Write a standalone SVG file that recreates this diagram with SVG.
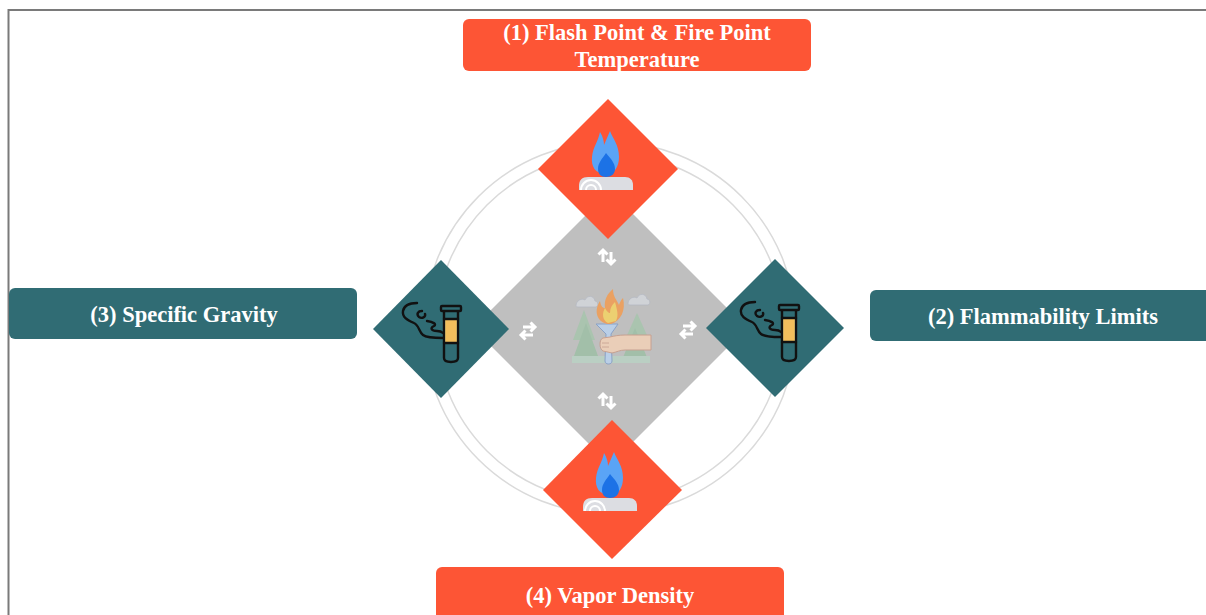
<svg xmlns="http://www.w3.org/2000/svg" xmlns:xlink="http://www.w3.org/1999/xlink" width="1206" height="615" viewBox="0 0 1206 615">
  <style>
    .red { fill: #FD5535; }
    .teal { fill: #306C74; }
    .ring { fill: none; stroke: #DADADA; stroke-width: 1.5; }
    .label { font-family: "Liberation Serif", "Times New Roman", serif; font-weight: bold; font-size: 22.5px; fill: #FFFFFF; text-anchor: middle; }
    .arr { fill: none; stroke: #FFFFFF; stroke-width: 3; stroke-linejoin: miter; }
    .ink { fill: none; stroke: #111111; stroke-width: 2.4; stroke-linecap: round; stroke-linejoin: round; }
  </style>
  <defs>
    <!-- blue burner flame -->
    <g id="burner">
      <path d="M -2,5 C -13,5 -17,-3 -16,-12 C -15,-22 -10,-27 -8,-37 C -5,-32 -4,-28 -4,-24 C -2,-29 0,-33 2,-38 C 5,-30 11,-24 11,-12 C 11,-3 7,5 -2,5 Z" fill="#5AA4F6"/>
      <path d="M -2,-16 C 3,-10 7,-6 7,0 C 7,5 3,8 -2,8 C -7,8 -10,5 -10,0 C -10,-6 -6,-10 -2,-16 Z" fill="#1C72E6"/>
      <path d="M -29,21 L -29,17 C -29,11 -26,8 -20,8 L 17,8 C 22,8 25,11 25,16 L 25,21 Z" fill="#DCDDE2"/>
      <path d="M -27,21 A 10,10 0 0 1 -7,21" fill="none" stroke="#FFFFFF" stroke-width="2"/>
      <path d="M -22,21 A 5,5 0 0 1 -12,21" fill="none" stroke="#FFFFFF" stroke-width="2"/>
    </g>
    <!-- test tube with fumes -->
    <g id="tube">
      <path d="M 5,-18 L 5,29 C 5,32 8,33 12,33 C 16,33 19,32 19,29 L 19,-18" fill="#306C74" stroke="#111111" stroke-width="2.4"/>
      <rect x="6.2" y="-10" width="11.6" height="24" fill="#F2BE5C"/>
      <path d="M 5,-10 L 19,-10 M 5,14 L 19,14" class="ink"/>
      <rect x="2" y="-23" width="20" height="5" rx="1" fill="#306C74" stroke="#111111" stroke-width="2.4"/>
      <path class="ink" d="M 4,9 C -4,9 -12,9 -16,6 C -20,3 -20,-4 -25,-6 C -32,-9 -37,-12 -36,-18 C -35,-23 -30,-26 -22,-26"/>
      <path class="ink" d="M -17,-18 C -21,-18 -23,-15 -20,-12 C -17,-10 -13,-12 -14,-15"/>
      <path class="ink" d="M -12,-8 C -6,-7 -2,-5 -5,-3 C -9,-1 -8,2 -2,2 C 1,2 3,3 4,4"/>
    </g>
    <!-- paired white arrows -->
    <g id="swap">
      <path class="arr" d="M -5,-4 L 7,-4 M 2.5,-8.5 L 7,-4 L 2.5,0.5"/>
      <path class="arr" d="M 5,4 L -7,4 M -2.5,-0.5 L -7,4 L -2.5,8.5"/>
    </g>
  </defs>

  <!-- frame -->
  <path d="M 8.5,615 L 8.5,10 L 1206,10" fill="none" stroke="#7A7A7A" stroke-width="2"/>

  <!-- rings -->
  <circle class="ring" cx="610" cy="328" r="186"/>
  <circle class="ring" cx="610" cy="328" r="174"/>

  <!-- central hub -->
  <g id="hub">
    <polygon points="610,191 747,328 610,465 473,328" fill="#BFBFBF"/>
    <g id="torch" opacity="0.8">
      <!-- clouds -->
      <path d="M 576,306 C 576,300 582,298 585,300 C 587,295 594,295 595,301 C 598,301 599,306 596,307 L 578,307 C 576,307 576,306 576,306 Z" fill="#D5D8DE" stroke="#B4B9C4" stroke-width="0.8"/>
      <path d="M 628,304 C 628,298 634,296 637,298 C 639,293 646,293 647,299 C 650,299 651,304 648,305 L 630,305 C 628,305 628,304 628,304 Z" fill="#D5D8DE" stroke="#B4B9C4" stroke-width="0.8"/>
      <!-- trees -->
      <polygon points="584,310 573,340 595,340" fill="#A5C6AC"/>
      <polygon points="586,323 574,356 598,356" fill="#9BC0A4"/>
      <polygon points="637,313 624,342 650,342" fill="#A5C6AC"/>
      <polygon points="635,328 622,360 648,360" fill="#9BC0A4"/>
      <rect x="572" y="356" width="78" height="7" fill="#B9D3C4"/>
      <!-- torch -->
      <path d="M 596,324 L 618,324 L 611,334 L 612,361 C 612,365 605,365 605,361 L 606,334 Z" fill="#B9D4F2" stroke="#7E9BC8" stroke-width="1"/>
      <path d="M 607,324 C 596,321 594,310 600,301 C 601,307 603,308 605,308 C 604,300 607,294 613,289 C 613,297 617,300 619,305 C 620,302 621,300 623,298 C 626,310 621,321 611,324 Z" fill="#F59A4C"/>
      <path d="M 608,323 C 602,320 602,313 605,308 C 607,312 609,313 610,313 C 610,308 612,305 615,302 C 617,310 619,315 616,321 Z" fill="#F8D55E"/>
      <!-- hand and arm -->
      <path d="M 603,338 C 599,339 599,349 603,351 L 612,353 C 617,352 620,350 625,350 L 651,350 L 651,335 L 625,335 C 619,335 614,336 610,337 Z" fill="#F5D2B7" stroke="#C99A86" stroke-width="1"/>
      <path d="M 602,343 L 609,343 M 602,347 L 609,347" stroke="#C99A86" stroke-width="0.8"/>
    </g>
  </g>

  <!-- connectors -->
  <g id="connectors">
    <use xlink:href="#swap" transform="translate(607,257) rotate(90)"/>
    <use xlink:href="#swap" transform="translate(607,401) rotate(90)"/>
    <use xlink:href="#swap" transform="translate(528,331)"/>
    <use xlink:href="#swap" transform="translate(688,330)"/>
  </g>

  <!-- (1) top -->
  <g id="node-flash-point">
    <polygon class="red" points="608,99 678,169 608,239 538,169"/>
    <use xlink:href="#burner" transform="translate(608,169)"/>
    <rect class="red" x="463" y="19" width="348" height="52" rx="6"/>
    <text class="label" x="637" y="40">(1) Flash Point &amp; Fire Point</text>
    <text class="label" x="637" y="67">Temperature</text>
  </g>

  <!-- (2) right -->
  <g id="node-flammability">
    <polygon class="teal" points="775,259 844,328 775,397 706,328"/>
    <use xlink:href="#tube" transform="translate(777,328)"/>
    <rect class="teal" x="870" y="290" width="345" height="51" rx="6"/>
    <text class="label" x="1043" y="324">(2) Flammability Limits</text>
  </g>

  <!-- (3) left -->
  <g id="node-specific-gravity">
    <polygon class="teal" points="441,260 509,329 441,398 373,329"/>
    <use xlink:href="#tube" transform="translate(439,329)"/>
    <rect class="teal" x="9" y="288" width="348" height="51" rx="6"/>
    <text class="label" x="184" y="322">(3) Specific Gravity</text>
  </g>

  <!-- (4) bottom -->
  <g id="node-vapor-density">
    <polygon class="red" points="612,420 682,490 612,559 543,490"/>
    <use xlink:href="#burner" transform="translate(612,490)"/>
    <rect class="red" x="436" y="567" width="348" height="60" rx="6"/>
    <text class="label" x="610" y="603">(4) Vapor Density</text>
  </g>
</svg>
